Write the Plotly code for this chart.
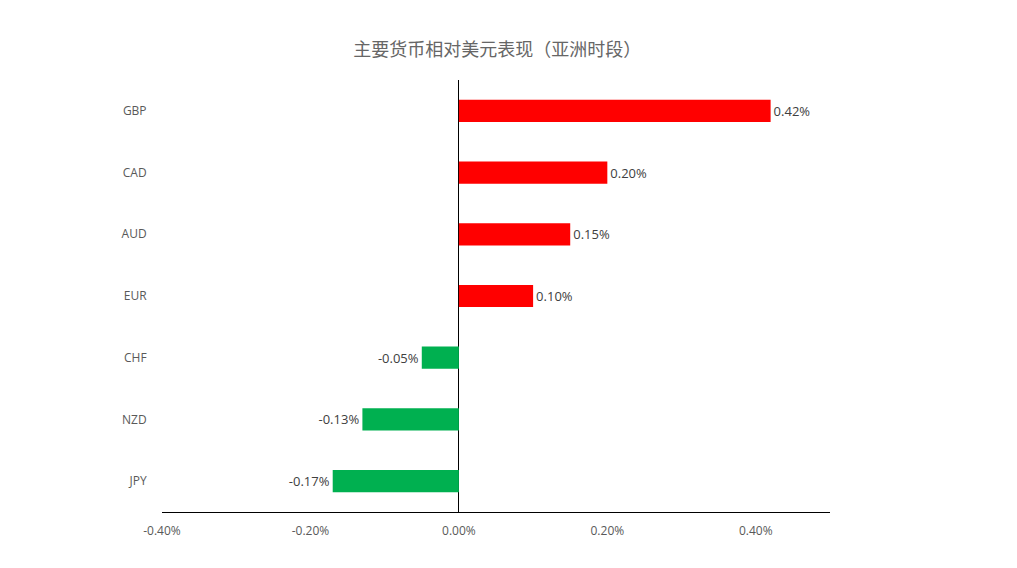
import plotly.graph_objects as go

# currency performance vs USD (Asian session), percent
currencies = ["JPY", "NZD", "CHF", "EUR", "AUD", "CAD", "GBP"]
changes = [-0.0017, -0.0013, -0.0005, 0.0010, 0.0015, 0.0020, 0.0042]
x_ticks = [-0.004, -0.002, 0.0, 0.002, 0.004]
x_tick_labels = ["-0.40%", "-0.20%", "0.00%", "0.20%", "0.40%"]

colors = ["#00B050" if v < 0 else "#FF0000" for v in changes]

fig = go.Figure()
fig.add_trace(go.Bar(
    x=changes, y=currencies, orientation="h",
    marker=dict(color=colors, line_width=0),
    text=[f"{v*100:.2f}%" for v in changes],
    textposition="outside",
    textfont=dict(size=13, color="#404040", family="Open Sans, Noto Sans CJK SC"),
    cliponaxis=False,
))

# page is drawn with an 8px body offset, so shift margins
fig.update_layout(
    width=1017, height=568,
    paper_bgcolor="white", plot_bgcolor="white",
    margin=dict(l=154, r=195, t=72, b=64),
    bargap=0.64,
    showlegend=False,
    font=dict(family="Open Sans, Noto Sans CJK SC", size=12, color="#595959"),
    title=dict(
        text="主要货币相对美元表现（亚洲时段）",
        x=0.481, xanchor="center", y=0.926, yanchor="middle",
        font=dict(family="Noto Sans CJK SC", size=18, color="#666666"),
    ),
)
fig.update_xaxes(
    range=[-0.004, 0.005], tickvals=x_ticks, ticktext=x_tick_labels,
    showgrid=False, zeroline=True, zerolinecolor="black", zerolinewidth=1,
    showline=True, linecolor="black", linewidth=1,
    ticks="outside", ticklen=8, tickcolor="rgba(0,0,0,0)",
    tickfont=dict(size=12, color="#595959"),
)
fig.update_yaxes(
    showgrid=False, zeroline=False, showline=False,
    ticks="outside", ticklen=12, tickcolor="rgba(0,0,0,0)",
    tickfont=dict(size=12, color="#595959"),
)

fig.write_html("out.html")
